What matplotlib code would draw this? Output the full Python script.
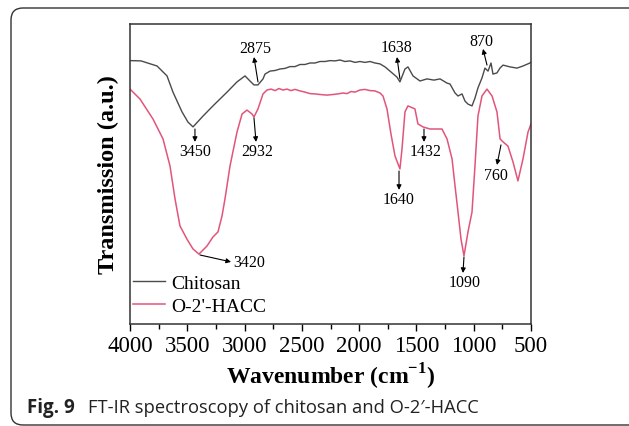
import matplotlib
matplotlib.use("Agg")
import matplotlib.pyplot as plt
from matplotlib.patches import FancyBboxPatch
from matplotlib.transforms import IdentityTransform

# ---- data ----
chitosan_w = [4000, 3904, 3764, 3677, 3625, 3546, 3494, 3450, 3363, 3276, 3153, 3066,
              2996, 2953, 2918, 2883, 2839, 2822, 2778, 2734, 2691, 2647, 2604, 2560,
              2516, 2473, 2429, 2385, 2342, 2298, 2254, 2211, 2167, 2124, 2080, 2036,
              1993, 1949, 1905, 1862, 1818, 1774, 1731, 1670, 1644, 1600, 1574, 1530,
              1469, 1408, 1347, 1294, 1233, 1207, 1163, 1137, 1102, 1076, 1050, 1015,
              989, 963, 928, 902, 875, 849, 832, 797, 771, 744, 683, 622, 570, 509, 500]
chitosan_t = [87.8, 87.7, 86.0, 82.7, 77.3, 70.7, 67.3, 65.7, 69.3, 72.7, 77.3, 80.7,
              82.7, 81.0, 79.7, 79.7, 81.7, 83.3, 84.3, 84.5, 85.0, 85.2, 85.8, 85.8,
              86.5, 86.5, 87.0, 87.0, 87.5, 87.5, 87.8, 87.7, 88.0, 87.5, 87.7, 87.2,
              87.5, 87.2, 87.5, 87.0, 86.7, 85.7, 84.3, 82.3, 80.7, 85.0, 85.7, 82.7,
              81.0, 81.7, 81.3, 81.7, 80.3, 80.0, 77.0, 76.0, 76.7, 74.3, 73.3, 72.7,
              75.3, 78.7, 82.0, 85.3, 84.3, 87.0, 83.3, 83.7, 85.3, 86.3, 85.7, 85.3, 86.0, 87.0, 87.3]

hacc_w = [4000, 3913, 3799, 3712, 3651, 3607, 3564, 3503, 3450, 3398, 3328, 3276, 3232,
          3197, 3171, 3127, 3066, 3022, 2979, 2935, 2918, 2883, 2839, 2804, 2769, 2734,
          2700, 2665, 2630, 2595, 2560, 2516, 2473, 2429, 2385, 2342, 2281, 2228, 2185,
          2141, 2106, 2071, 2036, 1993, 1949, 1905, 1862, 1818, 1792, 1757, 1722, 1687,
          1644, 1626, 1600, 1574, 1513, 1487, 1443, 1382, 1277, 1233, 1189, 1163, 1137,
          1111, 1085, 1050, 1015, 989, 963, 928, 884, 840, 797, 770, 744, 701, 657, 614,
          570, 526, 500]
hacc_t = [78.3, 75.0, 68.3, 61.7, 52.7, 41.7, 32.7, 28.3, 25.0, 23.3, 26.0, 29.0, 30.7,
          36.0, 41.7, 52.7, 64.0, 70.0, 71.3, 70.0, 69.0, 71.7, 76.7, 78.0, 78.3, 77.8,
          78.5, 78.0, 78.3, 77.8, 78.2, 77.7, 77.3, 76.8, 76.7, 76.5, 76.3, 76.5, 76.7,
          77.0, 76.8, 77.5, 77.3, 78.0, 78.2, 77.8, 77.7, 77.0, 76.0, 71.7, 63.3, 56.0,
          51.7, 58.3, 70.7, 72.7, 71.7, 66.7, 65.7, 65.0, 65.0, 61.7, 55.0, 46.0, 37.3,
          28.3, 22.7, 30.7, 37.3, 52.7, 69.3, 76.0, 78.3, 76.0, 70.7, 61.7, 60.7, 59.3,
          54.0, 47.7, 55.0, 64.0, 66.7]

series_labels = ["Chitosan", "O-2'-HACC"]
x_ticks = [4000, 3500, 3000, 2500, 2000, 1500, 1000, 500]

# peak labels: (text, text pos, arrow tail, arrow head)
peak_labels = ["2875", "3450", "2932", "1638", "870", "1640", "1432", "760", "1090"]
peak_text_pos = [(2909, 92.0), (3433, 57.7), (2892, 57.7), (1678, 92.3), (937, 94.3),
                 (1652, 41.7), (1417, 57.7), (806, 49.7), (1076, 14.0)]
peak_tail = [(2883, 80.7), (3433, 65.0), (2918, 68.7), (1644, 81.7), (884, 86.3),
             (1652, 51.0), (1434, 65.0), (762, 59.7), (1085, 22.3)]
peak_head = [(2918, 89.0), (3433, 60.7), (2900, 60.7), (1670, 89.0), (919, 91.7),
             (1652, 44.7), (1434, 60.7), (797, 53.0), (1094, 17.0)]

plt.rcParams['font.family'] = ['Liberation Serif', 'DejaVu Serif']
plt.rcParams['mathtext.fontset'] = 'custom'
plt.rcParams['mathtext.rm'] = 'Liberation Serif:bold'
plt.rcParams['mathtext.bf'] = 'Liberation Serif:bold'

fig = plt.figure(figsize=(6.29, 4.27), dpi=100)
ax = fig.add_axes([130/629, 102/427, 401/629, 300/427])

ax.plot(chitosan_w, chitosan_t, color='#4a4a4a', lw=1.0, label=series_labels[0])
ax.plot(hacc_w, hacc_t, color='#e2557a', lw=1.1, label=series_labels[1])

ax.set_xlim(4000, 500)
ax.set_ylim(0, 100)
ax.set_xticks(x_ticks)
ax.set_xticks([3750, 3250, 2750, 2250, 1750, 1250, 750], minor=True)
ax.set_xticklabels([str(t) for t in x_ticks], fontsize=16.5)
ax.set_yticks([])
ax.tick_params(axis='x', which='major', direction='out', length=5, width=1, pad=3)
ax.tick_params(axis='x', which='minor', direction='out', length=3.5, width=1)
for s in ax.spines.values():
    s.set_linewidth(1.1)
    s.set_color('#333333')

ax.set_xlabel(r"Wavenumber (cm$^{\mathregular{-1}}$)", fontsize=17, fontweight='bold', labelpad=3)
ax.set_ylabel("Transmission (a.u.)", fontsize=17.5, fontweight='bold', labelpad=8)

for lab, tp, tl, hd in zip(peak_labels, peak_text_pos, peak_tail, peak_head):
    ax.text(tp[0], tp[1], lab, fontsize=11.5, ha='center', va='center')
    ax.annotate("", xy=hd, xytext=tl,
                arrowprops=dict(arrowstyle='-|>', color='black', lw=0.8, mutation_scale=7,
                                shrinkA=0, shrinkB=0))
# 3420 label with sideways arrow
ax.annotate("", xy=(3118, 20.7), xytext=(3389, 23.0),
            arrowprops=dict(arrowstyle='-|>', color='black', lw=0.8, mutation_scale=7,
                            shrinkA=0, shrinkB=0))
ax.text(3100, 20.7, "3420", fontsize=11.5, ha='left', va='center')

leg = ax.legend(loc='lower left', bbox_to_anchor=(0.0, 6/300), frameon=False, fontsize=14,
                handlelength=1.65, handletextpad=0.3, labelspacing=0.3, borderaxespad=0.0,
                borderpad=0.15)

# rounded frame and caption
frame = FancyBboxPatch((11, 1), 640, 417, boxstyle="round,pad=0,rounding_size=12",
                       transform=IdentityTransform(), fill=False, edgecolor='#333333', lw=1.0)
fig.patches.append(frame)
fig.text(27/629, 1 - 408/427, "Fig. 9", fontsize=13.5, fontweight='bold', family='Open Sans',
         va='center', ha='left', color='#222222')
fig.text(88/629, 1 - 408/427, "FT-IR spectroscopy of chitosan and O-2\u2032-HACC", fontsize=13.2,
         family='Open Sans', va='center', ha='left', color='#222222')

fig.savefig("out.png", dpi=100)
